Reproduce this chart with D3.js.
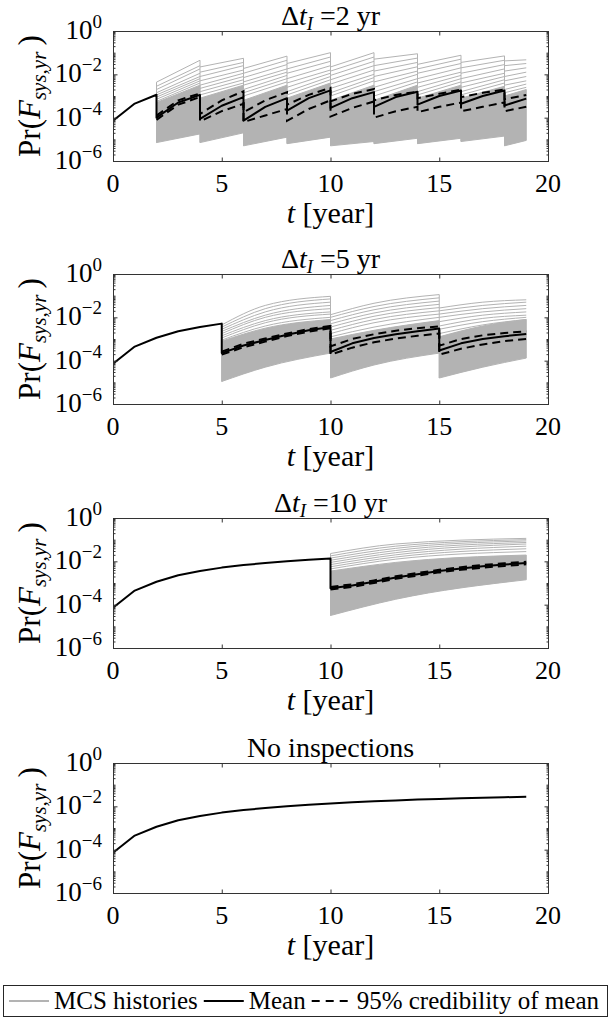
<!DOCTYPE html>
<html>
<head>
<meta charset="utf-8">
<script src="https://cdn.jsdelivr.net/npm/d3@7"></script>
<style>
  body { margin: 0; background: #fff; }
  svg { display: block; }
  text { font-family: "Liberation Serif", "DejaVu Serif", serif; fill: #000; }
</style>
</head>
<body>
<script>
// Pr(F_sys,yr) histories, values are log10 of the probability

// inspection interval per panel (null = no inspections)
var intervals = [2, 5, 10, null];

var xTicks = [0, 5, 10, 15, 20];
var xTickLabels = ["0", "5", "10", "15", "20"];
var yTicks = [1e0, 1e-2, 1e-4, 1e-6];
var yTickExp = ["0", "\u22122", "\u22124", "\u22126"];

// ---- panel 1: dt = 2 yr ----
var p1MeanT   = [0,1,2, 2,3,4, 4,5,6, 6,7,8, 8,9,10, 10,11,12, 12,13,14, 14,15,16, 16,17,18, 18,19];
var p1MeanLog = [-4.14,-3.35,-2.94, -4.0,-3.3,-2.95, -4.06,-3.45,-3.05, -4.14,-3.5,-3.1, -3.67,-3.1,-2.74,
                 -3.55,-3.1,-2.82, -3.5,-3.05,-2.8, -3.4,-3.0,-2.75, -3.36,-3.0,-2.75, -3.44,-3.12];
var p1CiT     = [2,3,4, 4,5,6, 6,7,8, 8,9,10, 10,11,12, 12,13,14, 14,15,16, 16,17,18, 18,19];
var p1UpLog   = [-3.9,-3.2,-2.88, -3.83,-3.2,-2.78, -3.75,-3.2,-2.82, -3.4,-2.95,-2.62, -3.25,-2.9,-2.68,
                 -3.2,-2.95,-2.8, -3.1,-2.9,-2.7, -3.05,-2.85,-2.7, -3.15,-2.95];
var p1LoLog   = [-4.1,-3.4,-3.05, -4.17,-3.7,-3.36, -4.2,-3.9,-3.6, -4.15,-3.6,-3.2, -3.95,-3.55,-3.25,
                 -4.0,-3.7,-3.5, -3.75,-3.5,-3.3, -3.7,-3.5,-3.3, -3.7,-3.5];
var p1SegT    = [[2,4],[4,6],[6,8],[8,10],[10,12],[12,14],[14,16],[16,18],[18,19]];
var p1BandHi  = [[-3.3,-2.5],[-3.1,-2.5],[-3.2,-2.5],[-3.1,-2.4],[-3.2,-2.5],[-3.2,-2.5],[-3.1,-2.5],[-3.1,-2.55],[-3.0,-2.7]];
var p1BandLo  = [[-5.15,-4.75],[-5.15,-4.7],[-5.3,-4.9],[-5.2,-4.9],[-5.3,-5.1],[-5.2,-4.95],[-5.2,-4.95],[-5.1,-4.85],[-5.3,-5.05]];
var p1LineStart = [
  [-2.36,-2.55,-2.7,-2.85,-2.95,-3.05,-3.15,-3.25],
  [-1.66,-1.9,-2.1,-2.3,-2.5,-2.65,-2.8,-2.95],
  [-1.73,-1.95,-2.15,-2.35,-2.5,-2.7,-2.85,-3.0],
  [-1.5,-1.75,-1.95,-2.2,-2.4,-2.6,-2.8,-2.95],
  [-1.66,-1.85,-2.05,-2.25,-2.45,-2.65,-2.85,-3.0],
  [-1.3,-1.6,-1.85,-2.1,-2.35,-2.6,-2.8,-3.0],
  [-1.54,-1.75,-1.95,-2.2,-2.4,-2.6,-2.8,-2.95],
  [-1.45,-1.7,-1.95,-2.2,-2.4,-2.6,-2.8,-2.95],
  [-1.38,-1.6,-1.85,-2.1,-2.3,-2.5,-2.7,-2.85]];
var p1LineEnd = [
  [-1.35,-1.6,-1.75,-1.95,-2.1,-2.2,-2.3,-2.4],
  [-1.26,-1.45,-1.6,-1.8,-1.95,-2.1,-2.25,-2.4],
  [-1.16,-1.35,-1.55,-1.75,-1.9,-2.05,-2.2,-2.35],
  [-1.0,-1.2,-1.4,-1.6,-1.8,-1.95,-2.1,-2.25],
  [-1.0,-1.2,-1.4,-1.6,-1.8,-2.0,-2.15,-2.3],
  [-1.05,-1.25,-1.45,-1.65,-1.85,-2.0,-2.2,-2.35],
  [-1.12,-1.3,-1.5,-1.7,-1.9,-2.05,-2.2,-2.35],
  [-1.15,-1.35,-1.55,-1.75,-1.95,-2.1,-2.25,-2.4],
  [-1.33,-1.5,-1.7,-1.9,-2.1,-2.3,-2.45,-2.6]];

// ---- panel 2: dt = 5 yr ----
var p2MeanT   = [0,1,2,3,4,5, 5,6,7,8,9,10, 10,11,12,13,14,15, 15,16,17,18,19];
var p2MeanLog = [-4.14,-3.35,-2.94,-2.64,-2.45,-2.29, -3.65,-3.3,-3.05,-2.8,-2.6,-2.45,
                 -3.6,-3.2,-2.95,-2.78,-2.64,-2.52, -3.53,-3.2,-3.0,-2.87,-2.77];
var p2CiT     = [5,6,7,8,9,10, 10,11,12,13,14,15, 15,16,17,18,19];
var p2UpLog   = [-3.58,-3.22,-2.98,-2.74,-2.54,-2.4, -3.34,-3.0,-2.78,-2.62,-2.5,-2.42, -3.31,-3.0,-2.83,-2.72,-2.65];
var p2LoLog   = [-3.72,-3.38,-3.12,-2.86,-2.66,-2.5, -3.72,-3.4,-3.15,-2.98,-2.85,-2.75, -3.72,-3.45,-3.25,-3.1,-3.0];
var p2SegT    = [[5,7,10],[10,12,15],[15,17,19]];
var p2BandHi  = [[-3.1,-2.5,-2.1],[-3.0,-2.6,-2.15],[-2.9,-2.4,-2.1]];
var p2BandLo  = [[-4.96,-4.3,-3.65],[-4.8,-4.2,-3.65],[-4.8,-4.3,-3.88]];
var p2LineStart = [
  [-2.35,-2.45,-2.55,-2.65,-2.75,-2.85,-2.95,-3.05],
  [-1.88,-2.0,-2.15,-2.3,-2.45,-2.6,-2.75,-2.9],
  [-1.57,-1.7,-1.85,-2.0,-2.2,-2.4,-2.55,-2.75]];
var p2LineMid = [
  [-1.45,-1.6,-1.75,-1.9,-2.0,-2.15,-2.25,-2.4],
  [-1.35,-1.5,-1.65,-1.8,-1.95,-2.1,-2.25,-2.45],
  [-1.3,-1.45,-1.6,-1.75,-1.9,-2.05,-2.2,-2.35]];
var p2LineEnd = [
  [-1.03,-1.15,-1.3,-1.45,-1.6,-1.75,-1.85,-2.0],
  [-0.95,-1.1,-1.25,-1.4,-1.55,-1.7,-1.85,-2.0],
  [-1.19,-1.3,-1.45,-1.6,-1.75,-1.9,-2.0,-2.1]];

// ---- panel 3: dt = 10 yr ----
var p3MeanT   = [0,1,2,3,4,5,6,7,8,9,10, 10,11,12,13,14,15,16,17,18,19];
var p3MeanLog = [-4.14,-3.35,-2.94,-2.64,-2.45,-2.29,-2.17,-2.08,-2.0,-1.93,-1.87,
                 -3.24,-3.12,-2.94,-2.75,-2.6,-2.45,-2.33,-2.23,-2.15,-2.08];
var p3CiT     = [10,11,12,13,14,15,16,17,18,19];
var p3UpLog   = [-3.18,-3.06,-2.88,-2.69,-2.54,-2.39,-2.27,-2.17,-2.09,-2.02];
var p3LoLog   = [-3.3,-3.18,-3.0,-2.81,-2.66,-2.51,-2.39,-2.29,-2.21,-2.14];
var p3SegT    = [[10,13,19]];
var p3BandHi  = [[-2.45,-2.05,-1.71]];
var p3BandLo  = [[-4.5,-3.75,-2.85]];
var p3LineStart = [[-1.64,-1.75,-1.85,-1.95,-2.05,-2.15,-2.25,-2.35]];
var p3LineMid   = [[-1.2,-1.3,-1.4,-1.5,-1.6,-1.7,-1.8,-1.9]];
var p3LineEnd   = [[-0.94,-1.0,-1.06,-1.13,-1.2,-1.3,-1.42,-1.55]];

// ---- panel 4: no inspections ----
var p4MeanT   = [0,1,2,3,4,5,6,7,8,9,10,11,12,13,14,15,16,17,18,19];
var p4MeanLog = [-4.14,-3.35,-2.94,-2.64,-2.45,-2.29,-2.17,-2.08,-2.0,-1.93,-1.87,-1.81,-1.77,-1.73,-1.69,-1.66,-1.63,-1.6,-1.58,-1.56];

var legendLabels = ["MCS histories", "Mean", "95% credibility of mean"];

var panels = [
  {meanT: p1MeanT, mean: p1MeanLog, ciT: p1CiT, up: p1UpLog, lo: p1LoLog,
   segT: p1SegT, bandHi: p1BandHi, bandLo: p1BandLo, lines: [p1LineStart, p1LineEnd]},
  {meanT: p2MeanT, mean: p2MeanLog, ciT: p2CiT, up: p2UpLog, lo: p2LoLog,
   segT: p2SegT, bandHi: p2BandHi, bandLo: p2BandLo, lines: [p2LineStart, p2LineMid, p2LineEnd]},
  {meanT: p3MeanT, mean: p3MeanLog, ciT: p3CiT, up: p3UpLog, lo: p3LoLog,
   segT: p3SegT, bandHi: p3BandHi, bandLo: p3BandLo, lines: [p3LineStart, p3LineMid, p3LineEnd]},
  {meanT: p4MeanT, mean: p4MeanLog}
];

// layout
var width = 610, height = 1019;
var left = 113, right = 548, plotH = 130;
var panelTops = [31, 274, 518, 763];
var grey = "#b3b3b3", axisColor = "#333";
var serif = "'Liberation Serif', 'DejaVu Serif', serif";

var svg = d3.select("body").append("svg")
    .attr("width", width)
    .attr("height", height)
    .attr("font-family", serif);

var x = d3.scaleLinear().domain([0, 20]).range([left, right]);

panels.forEach(function(p, i) {
  var top = panelTops[i], bottom = top + plotH;
  var y = d3.scaleLog().domain([1e-6, 1]).range([bottom, top]);
  var py = function(v) { return y(Math.pow(10, v)); };
  var g = svg.append("g");

  svg.append("clipPath").attr("id", "clip" + i)
    .append("rect").attr("x", left).attr("y", top).attr("width", right - left).attr("height", plotH);
  var plot = g.append("g").attr("clip-path", "url(#clip" + i + ")");

  // MCS histories
  if (p.segT) {
    p.segT.forEach(function(ts, j) {
      var band = ts.map(function(t, k) { return {t: t, hi: p.bandHi[j][k], lo: p.bandLo[j][k]}; });
      plot.append("path")
          .datum(band)
          .attr("fill", grey)
          .attr("stroke", grey)
          .attr("stroke-width", 1)
          .attr("d", d3.area().curve(d3.curveMonotoneX)
              .x(function(d) { return x(d.t); })
              .y0(function(d) { return py(d.lo); })
              .y1(function(d) { return py(d.hi); }));

      var nLines = p.lines[0][j].length;
      for (var n = 0; n < nLines; n++) {
        var pts = ts.map(function(t, k) { return {t: t, v: p.lines[k][j][n]}; });
        plot.append("path")
            .datum(pts)
            .attr("fill", "none")
            .attr("stroke", grey)
            .attr("stroke-width", 1)
            .attr("d", d3.line().curve(d3.curveMonotoneX)
                .x(function(d) { return x(d.t); })
                .y(function(d) { return py(d.v); }));
      }

      // jump at the inspection time
      var hiV = p.lines[0][j][0];
      if (j > 0) hiV = Math.max(hiV, p.lines[p.lines.length - 1][j - 1][0]);
      plot.append("line")
          .attr("x1", x(ts[0])).attr("x2", x(ts[0]))
          .attr("y1", py(p.bandLo[j][0])).attr("y2", py(hiV))
          .attr("stroke", grey)
          .attr("stroke-width", 1);
    });
  }

  var line = d3.line()
      .x(function(d) { return x(d[0]); })
      .y(function(d) { return py(d[1]); });

  if (p.ciT) {
    [p.up, p.lo].forEach(function(vals) {
      plot.append("path")
          .datum(p.ciT.map(function(t, k) { return [t, vals[k]]; }))
          .attr("fill", "none")
          .attr("stroke", "#000")
          .attr("stroke-width", 2)
          .attr("stroke-dasharray", "8,5")
          .attr("d", line);
    });
  }

  plot.append("path")
      .datum(p.meanT.map(function(t, k) { return [t, p.mean[k]]; }))
      .attr("fill", "none")
      .attr("stroke", "#000")
      .attr("stroke-width", 2)
      .attr("stroke-linejoin", "round")
      .attr("d", line);

  // box + ticks
  g.append("rect")
      .attr("x", left + 0.5).attr("y", top + 0.5)
      .attr("width", right - left).attr("height", plotH)
      .attr("fill", "none")
      .attr("stroke", axisColor)
      .attr("stroke-width", 1);

  var minor = y.ticks().filter(function(v) {
    return !yTicks.some(function(m) { return Math.abs(Math.log10(m) - Math.log10(v)) < 1e-6; });
  });

  function ax(gen, tx, ty) {
    g.append("g")
        .attr("transform", "translate(" + tx + "," + ty + ")")
        .attr("color", axisColor)
        .call(gen)
        .call(function(s) { s.select(".domain").remove(); });
  }
  ax(d3.axisBottom(x).tickValues(xTicks).tickSizeInner(-4).tickSizeOuter(0).tickFormat(""), 0, bottom + 0.5);
  ax(d3.axisTop(x).tickValues(xTicks).tickSizeInner(-4).tickSizeOuter(0).tickFormat(""), 0, top + 0.5);
  ax(d3.axisLeft(y).tickValues(yTicks).tickSizeInner(-4).tickSizeOuter(0).tickFormat(""), left + 0.5, 0);
  ax(d3.axisRight(y).tickValues(yTicks).tickSizeInner(-4).tickSizeOuter(0).tickFormat(""), right + 0.5, 0);
  ax(d3.axisLeft(y).tickValues(minor).tickSizeInner(-2).tickSizeOuter(0).tickFormat(""), left + 0.5, 0);
  ax(d3.axisRight(y).tickValues(minor).tickSizeInner(-2).tickSizeOuter(0).tickFormat(""), right + 0.5, 0);

  // tick labels
  xTicks.forEach(function(t, k) {
    g.append("text")
        .attr("x", x(t)).attr("y", bottom + 31)
        .attr("text-anchor", "middle")
        .attr("font-size", 26)
        .text(xTickLabels[k]);
  });
  yTicks.forEach(function(v, k) {
    var t = g.append("text")
        .attr("x", 102).attr("y", y(v) + 8)
        .attr("text-anchor", "end")
        .attr("font-size", 27);
    t.append("tspan").text("10");
    t.append("tspan").attr("font-size", 19).attr("dy", -11).text(yTickExp[k]);
  });

  // title
  var cx = (left + right) / 2;
  var title = g.append("text")
      .attr("x", cx).attr("y", top - 6)
      .attr("text-anchor", "middle")
      .attr("font-size", 28);
  if (intervals[i] == null) {
    title.text("No inspections");
  } else {
    title.append("tspan").text("\u0394");
    title.append("tspan").attr("font-style", "italic").text("t");
    title.append("tspan").attr("font-style", "italic").attr("font-size", 19).attr("dy", 5).text("I");
    title.append("tspan").attr("dy", -5).text(" =" + intervals[i] + " yr");
  }

  // axis labels
  var xl = g.append("text")
      .attr("x", cx).attr("y", bottom + 62)
      .attr("text-anchor", "middle")
      .attr("font-size", 30);
  xl.append("tspan").attr("font-style", "italic").text("t");
  xl.append("tspan").text(" [year]");

  var yl = g.append("text")
      .attr("transform", "translate(40," + (top + plotH / 2) + ") rotate(-90)")
      .attr("text-anchor", "middle")
      .attr("font-size", 31);
  yl.append("tspan").text("Pr(");
  yl.append("tspan").attr("font-style", "italic").text("F");
  yl.append("tspan").attr("font-style", "italic").attr("font-size", 21).attr("dy", 6).text("sys,yr");
  yl.append("tspan").attr("dy", -6).text("\u2009)");
});

// legend
var lg = svg.append("g");
lg.append("rect")
    .attr("x", 3.5).attr("y", 985.5)
    .attr("width", 604).attr("height", 31)
    .attr("fill", "#fff")
    .attr("stroke", "#262626");

var legendStyles = [
  {stroke: grey, w: 2, dash: null},
  {stroke: "#000", w: 2, dash: null},
  {stroke: "#000", w: 2, dash: "8,6"}
];
var lx = 9;
legendLabels.forEach(function(label, k) {
  var s = legendStyles[k];
  lg.append("line")
      .attr("x1", lx).attr("x2", lx + 40)
      .attr("y1", 1001).attr("y2", 1001)
      .attr("stroke", s.stroke)
      .attr("stroke-width", s.w)
      .attr("stroke-dasharray", s.dash);
  var t = lg.append("text")
      .attr("x", lx + 45).attr("y", 1009)
      .attr("font-size", 25)
      .text(label);
  lx = lx + 45 + t.node().getComputedTextLength() + 6;
});
</script>
</body>
</html>
